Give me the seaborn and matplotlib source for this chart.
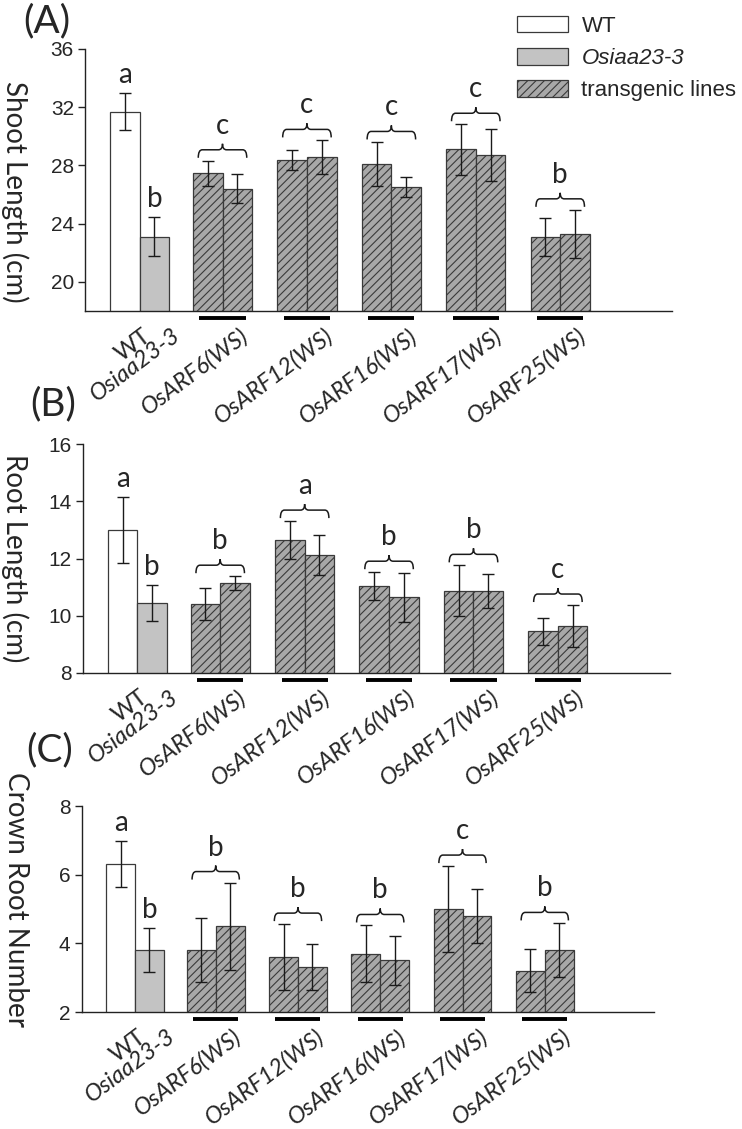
import numpy as np
import pandas as pd
import matplotlib
matplotlib.use('Agg')
import matplotlib.pyplot as plt
from matplotlib.path import Path
from matplotlib.patches import PathPatch, Patch
from matplotlib.transforms import ScaledTranslation
import seaborn as sns

# lines on the x axis (one label per group)
lines = ['WT', 'Osiaa23-3', 'OsARF6(WS)', 'OsARF12(WS)', 'OsARF16(WS)', 'OsARF17(WS)', 'OsARF25(WS)']
kinds = ['WT', 'Osiaa23-3'] + ['transgenic lines'] * 10

# (A) shoot length (cm), 12 bars: WT, Osiaa23-3, then 2 lines per OsARF
shoot_mean = [31.7, 23.1, 27.45, 26.4, 28.4, 28.55, 28.1, 26.5, 29.1, 28.7, 23.1, 23.3]
shoot_err = [1.25, 1.35, 0.87, 1.0, 0.68, 1.17, 1.48, 0.7, 1.73, 1.78, 1.3, 1.65]
shoot_letters = ['a', 'b', 'c', 'c', 'c', 'c', 'b']

# (B) root length (cm)
root_mean = [13.0, 10.43, 10.4, 11.13, 12.64, 12.12, 11.04, 10.64, 10.87, 10.87, 9.45, 9.63]
root_err = [1.16, 0.63, 0.57, 0.25, 0.67, 0.7, 0.48, 0.86, 0.89, 0.6, 0.47, 0.74]
root_letters = ['a', 'b', 'b', 'a', 'b', 'b', 'c']

# (C) crown root number
crown_mean = [6.3, 3.8, 3.8, 4.5, 3.6, 3.3, 3.7, 3.5, 5.0, 4.8, 3.2, 3.8]
crown_err = [0.67, 0.64, 0.93, 1.27, 0.96, 0.67, 0.82, 0.71, 1.25, 0.79, 0.63, 0.78]
crown_letters = ['a', 'b', 'b', 'b', 'b', 'c', 'b']

sns.set_theme(style='white')
plt.rcParams['font.family'] = ['Lato', 'DejaVu Sans']
plt.rcParams['hatch.linewidth'] = 0.8

W, H, DPI = 742, 1129, 100
fig = plt.figure(figsize=(W / DPI, H / DPI), dpi=DPI)

# bar layout (in bar widths)
group_start = [2.8 + 2.855 * k for k in range(5)]
pos = [0.5, 1.5]
for s in group_start:
    pos += [s + 0.5, s + 1.5]
tick_pos = [0.5, 1.5] + [s + 1 for s in group_start]

panels = [
    dict(tag='(A)', mean=shoot_mean, err=shoot_err, letters=shoot_letters, ylim=(18, 36),
         yticks=[20, 24, 28, 32, 36], ylabel='Shoot Length (cm)',
         box=(85, 49, 587, 262), tagpos=(47, 21), ylabpos=(15, 192)),
    dict(tag='(B)', mean=root_mean, err=root_err, letters=root_letters, ylim=(8, 16),
         yticks=[8, 10, 12, 14, 16], ylabel='Root Length (cm)',
         box=(82.7, 444.3, 587, 228.4), tagpos=(53, 404), ylabpos=(15, 558)),
    dict(tag='(C)', mean=crown_mean, err=crown_err, letters=crown_letters, ylim=(2, 8),
         yticks=[2, 4, 6, 8], ylabel='Crown Root Number',
         box=(81.7, 806, 572, 206), tagpos=(50, 750), ylabpos=(16, 900)),
]

styles = {
    'WT': dict(color='white', hatch=None),
    'Osiaa23-3': dict(color='#c3c3c3', hatch=None),
    'transgenic lines': dict(color='#a8a8a8', hatch='////'),
}
edge = '#3a3a3a'

for p in panels:
    x0, y0, w, h = p['box']
    ax = fig.add_axes([x0 / W, 1 - (y0 + h) / H, w / W, h / H])
    df = pd.DataFrame({'pos': pos, 'value': p['mean'], 'err': p['err'], 'kind': kinds})
    for kind, st in styles.items():
        sub = df[df['kind'] == kind]
        sns.barplot(data=sub, x='pos', y='value', native_scale=True, orient='x', width=1,
                    color=st['color'], saturation=1, edgecolor=edge, linewidth=0.9,
                    hatch=st['hatch'], errorbar=None, ax=ax)
    ax.errorbar(df['pos'], df['value'], yerr=df['err'], fmt='none', ecolor='#1a1a1a',
                elinewidth=1, capsize=4, capthick=1)

    ax.set_xlim(-0.85, 19.0)
    ax.set_ylim(*p['ylim'])
    ax.set_yticks(p['yticks'])
    ax.set_yticklabels([str(t) for t in p['yticks']], family=['Liberation Sans Narrow', 'Liberation Sans'],
                       fontsize=15)
    ax.set_xlabel('')
    ax.set_ylabel('')
    sns.despine(ax=ax)
    for sp in ['left', 'bottom']:
        ax.spines[sp].set_color('#222222')
        ax.spines[sp].set_linewidth(1.0)
    ax.tick_params(axis='y', direction='out', length=5, width=1, color='#222222', pad=3, left=True)
    ax.tick_params(axis='x', length=0, pad=10)

    # x tick labels, rotated
    ax.set_xticks(tick_pos)
    ax.set_xticklabels(lines, rotation=37, ha='right', va='top', rotation_mode='anchor', fontsize=17)
    shift = ScaledTranslation(17 / DPI, 0, fig.dpi_scale_trans)
    for i, lab in enumerate(ax.get_xticklabels()):
        lab.set_style('normal' if i == 0 else 'italic')
        lab.set_transform(lab.get_transform() + shift)

    # pixel -> data conversion
    dpp = (p['ylim'][1] - p['ylim'][0]) / h
    xpp = 19.85 / w

    # black lines below each transgenic group
    under = ax.get_xaxis_transform() + ScaledTranslation(0, -7 / DPI, fig.dpi_scale_trans)
    for s in group_start:
        ax.plot([s + 0.22, s + 1.78], [0, 0], color='black', lw=2.8, transform=under,
                clip_on=False, solid_capstyle='butt')

    tops = np.array(p['mean']) + np.array(p['err'])
    # single bars letters
    for i in range(2):
        ax.text(pos[i], tops[i] + 18 * dpp, p['letters'][i], ha='center', va='center', fontsize=20)
    # braces + letters for groups
    for k, s in enumerate(group_start):
        b = max(tops[2 + 2 * k], tops[3 + 2 * k]) + 3 * dpp
        xa, xb, xm = s + 0.18, s + 1.82, s + 1
        hx = 4 * xpp
        hy = b + 8 * dpp
        v = [(xa, b), (xa, hy), (xa + hx, hy),
             (xm - hx, hy), (xm, hy), (xm, hy + 6 * dpp),
             (xm, hy), (xm + hx, hy),
             (xb - hx, hy), (xb, hy), (xb, b)]
        c = [Path.MOVETO, Path.CURVE3, Path.CURVE3, Path.LINETO, Path.CURVE3, Path.CURVE3,
             Path.CURVE3, Path.CURVE3, Path.LINETO, Path.CURVE3, Path.CURVE3]
        ax.add_patch(PathPatch(Path(v, c), fill=False, edgecolor='#1a1a1a', lw=1.1, clip_on=False))
        ax.text(xm, b + 32 * dpp, p['letters'][2 + k], ha='center', va='center', fontsize=20)

    fig.text(p['tagpos'][0] / W, 1 - p['tagpos'][1] / H, p['tag'], ha='center', va='center', fontsize=28)
    fig.text(p['ylabpos'][0] / W, 1 - p['ylabpos'][1] / H, p['ylabel'], ha='center', va='center',
             rotation=-90, fontsize=20)

handles = [Patch(facecolor=styles[k]['color'], edgecolor=edge, hatch=styles[k]['hatch'], linewidth=0.9)
           for k in styles]
leg = fig.legend(handles, list(styles), loc='upper left', bbox_to_anchor=(517 / W, 1 - 16 / H),
                 frameon=False, borderpad=0, borderaxespad=0, handlelength=2.3, handleheight=0.75,
                 handletextpad=0.6, labelspacing=0.5,
                 prop={'family': ['Liberation Sans', 'DejaVu Sans'], 'size': 16})
leg.get_texts()[1].set_style('italic')

fig.savefig('out.png', dpi=DPI)
